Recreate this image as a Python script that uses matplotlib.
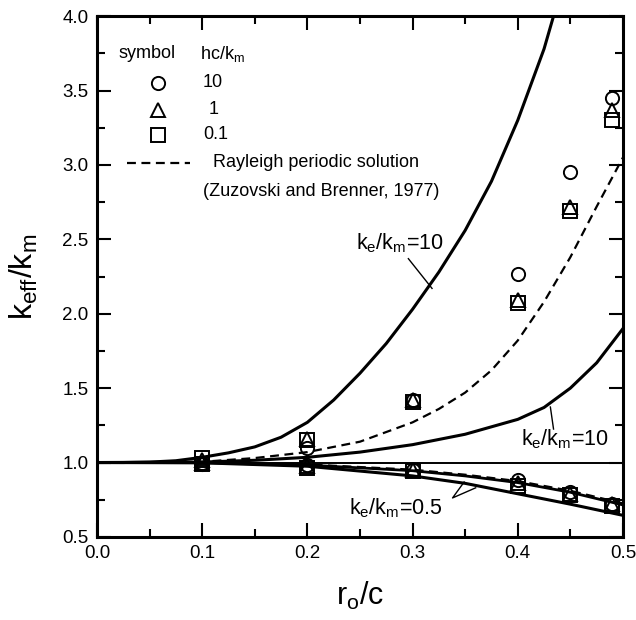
import numpy as np
import matplotlib
matplotlib.use("Agg")
import matplotlib.pyplot as plt
from matplotlib.ticker import MultipleLocator, FormatStrFormatter

plt.rcParams['font.family'] = ['Liberation Sans', 'DejaVu Sans']
plt.rcParams['mathtext.fontset'] = 'custom'
plt.rcParams['mathtext.rm'] = 'Liberation Sans'
plt.rcParams['mathtext.it'] = 'Liberation Sans'

# model curves
x_up10 = [0, 0.025, 0.05, 0.075, 0.1, 0.125, 0.15, 0.175, 0.2, 0.225, 0.25,
          0.275, 0.3, 0.325, 0.35, 0.375, 0.4, 0.425, 0.434]
k_up10 = [1.0, 1.0, 1.003, 1.012, 1.035, 1.065, 1.105, 1.17, 1.27, 1.42, 1.60,
          1.80, 2.03, 2.28, 2.56, 2.89, 3.30, 3.78, 4.0]

x_ray = [0, 0.05, 0.1, 0.15, 0.2, 0.25, 0.3, 0.325, 0.35, 0.375, 0.4, 0.425,
         0.45, 0.475, 0.5]
k_ray10 = [1.0, 1.0, 1.005, 1.03, 1.07, 1.14, 1.27, 1.36, 1.47, 1.62, 1.82,
           2.08, 2.38, 2.72, 3.05]

x_lo10 = [0, 0.1, 0.15, 0.2, 0.25, 0.3, 0.35, 0.4, 0.425, 0.45, 0.475, 0.5]
k_lo10 = [1.0, 1.003, 1.015, 1.035, 1.07, 1.12, 1.19, 1.29, 1.37, 1.50, 1.67, 1.90]

x_half = [0, 0.1, 0.2, 0.3, 0.35, 0.4, 0.45, 0.5]
k_half_a = [1.0, 0.998, 0.975, 0.91, 0.86, 0.79, 0.72, 0.645]
k_half_b = [1.0, 0.999, 0.983, 0.945, 0.91, 0.865, 0.80, 0.715]
k_ray_half = [1.0, 1.0, 0.987, 0.952, 0.918, 0.875, 0.81, 0.725]

# measured points
x_pts = [0.1, 0.2, 0.3, 0.4, 0.45, 0.49]
circ_hi = [1.0, 1.10, 1.42, 2.27, 2.95, 3.45]
tri_hi = [1.02, 1.16, 1.42, 2.09, 2.72, 3.37]
sq_hi = [1.03, 1.15, 1.41, 2.07, 2.69, 3.30]
circ_lo = [0.99, 0.98, 0.95, 0.88, 0.80, 0.72]
tri_lo = [1.0, 0.975, 0.95, 0.86, 0.79, 0.72]
sq_lo = [0.99, 0.965, 0.945, 0.84, 0.78, 0.71]

fig = plt.figure(figsize=(6.36, 6.20), dpi=100)
ax = fig.add_axes([0.1525, 0.134, 0.827, 0.840])

ax.axhline(1.0, color='k', lw=1.4)
ax.plot(x_up10, k_up10, '-', color='k', lw=2.2)
ax.plot(x_lo10, k_lo10, '-', color='k', lw=2.2)
ax.plot(x_ray, k_ray10, '--', color='k', lw=1.6, dashes=(4, 2.5))
ax.plot(x_half, k_half_a, '-', color='k', lw=2.2)
ax.plot(x_half, k_half_b, '-', color='k', lw=2.0)
ax.plot(x_half, k_ray_half, '--', color='k', lw=1.6, dashes=(4, 2.5))

mk = dict(ls='none', mfc='none', mec='k', ms=9.5, mew=1.4)
for ys in (circ_hi, circ_lo):
    ax.plot(x_pts, ys, marker='o', **mk)
for ys in (tri_hi, tri_lo):
    ax.plot(x_pts, ys, marker='^', **mk)
for ys in (sq_hi, sq_lo):
    ax.plot(x_pts, ys, marker='s', **mk)

ax.set_xlim(0, 0.5)
ax.set_ylim(0.5, 4.0)
ax.xaxis.set_major_locator(MultipleLocator(0.1))
ax.xaxis.set_minor_locator(MultipleLocator(0.05))
ax.yaxis.set_major_locator(MultipleLocator(0.5))
ax.yaxis.set_minor_locator(MultipleLocator(0.25))
ax.xaxis.set_major_formatter(FormatStrFormatter('%.1f'))
ax.yaxis.set_major_formatter(FormatStrFormatter('%.1f'))
ax.tick_params(which='both', direction='in', top=True, right=True,
               labelsize=13.5, width=1.5)
ax.tick_params(which='major', length=10, pad=6)
ax.tick_params(which='minor', length=6)
for s in ax.spines.values():
    s.set_linewidth(2.2)

ax.set_xlabel(r'$\mathregular{r_o/c}$', fontsize=22, labelpad=13)
ax.set_ylabel(r'$\mathregular{k_{eff}/k_m}$', fontsize=23, labelpad=16)

# legend block drawn by hand
tr = ax.transAxes
fs = 13
ax.text(0.04, 0.928, 'symbol', transform=tr, fontsize=fs, va='center')
ax.text(0.196, 0.928, r'hc/k$_\mathregular{m}$', transform=tr, fontsize=fs, va='center')
ax.plot([0.116], [0.872], marker='o', transform=tr, **mk)
ax.plot([0.116], [0.820], marker='^', transform=tr, **mk)
ax.plot([0.116], [0.772], marker='s', transform=tr, **mk)
ax.text(0.220, 0.872, '10', transform=tr, fontsize=fs, va='center', ha='center')
ax.text(0.222, 0.820, '1', transform=tr, fontsize=fs, va='center', ha='center')
ax.text(0.226, 0.772, '0.1', transform=tr, fontsize=fs, va='center', ha='center')
ax.plot([0.057, 0.177], [0.718, 0.718], '--', color='k', lw=1.6,
        dashes=(4, 2.5), transform=tr)
ax.text(0.220, 0.718, 'Rayleigh periodic solution', transform=tr,
        fontsize=fs, va='center')
ax.text(0.202, 0.664, '(Zuzovski and Brenner, 1977)', transform=tr,
        fontsize=fs, va='center')

# curve labels with leader lines
ax.text(0.288, 2.475, r'k$_\mathregular{e}$/k$_\mathregular{m}$=10', fontsize=15.5,
        va='center', ha='center')
ax.plot([0.296, 0.3185], [2.37, 2.17], color='k', lw=1.0)
ax.text(0.445, 1.158, r'k$_\mathregular{e}$/k$_\mathregular{m}$=10', fontsize=15.5,
        va='center', ha='center')
ax.plot([0.431, 0.434], [1.373, 1.225], color='k', lw=1.0)
ax.text(0.284, 0.695, r'k$_\mathregular{e}$/k$_\mathregular{m}$=0.5', fontsize=15.5,
        va='center', ha='center')
ax.plot([0.349, 0.338, 0.360], [0.869, 0.762, 0.83], color='k', lw=1.0)

fig.savefig('out.png', dpi=100)
